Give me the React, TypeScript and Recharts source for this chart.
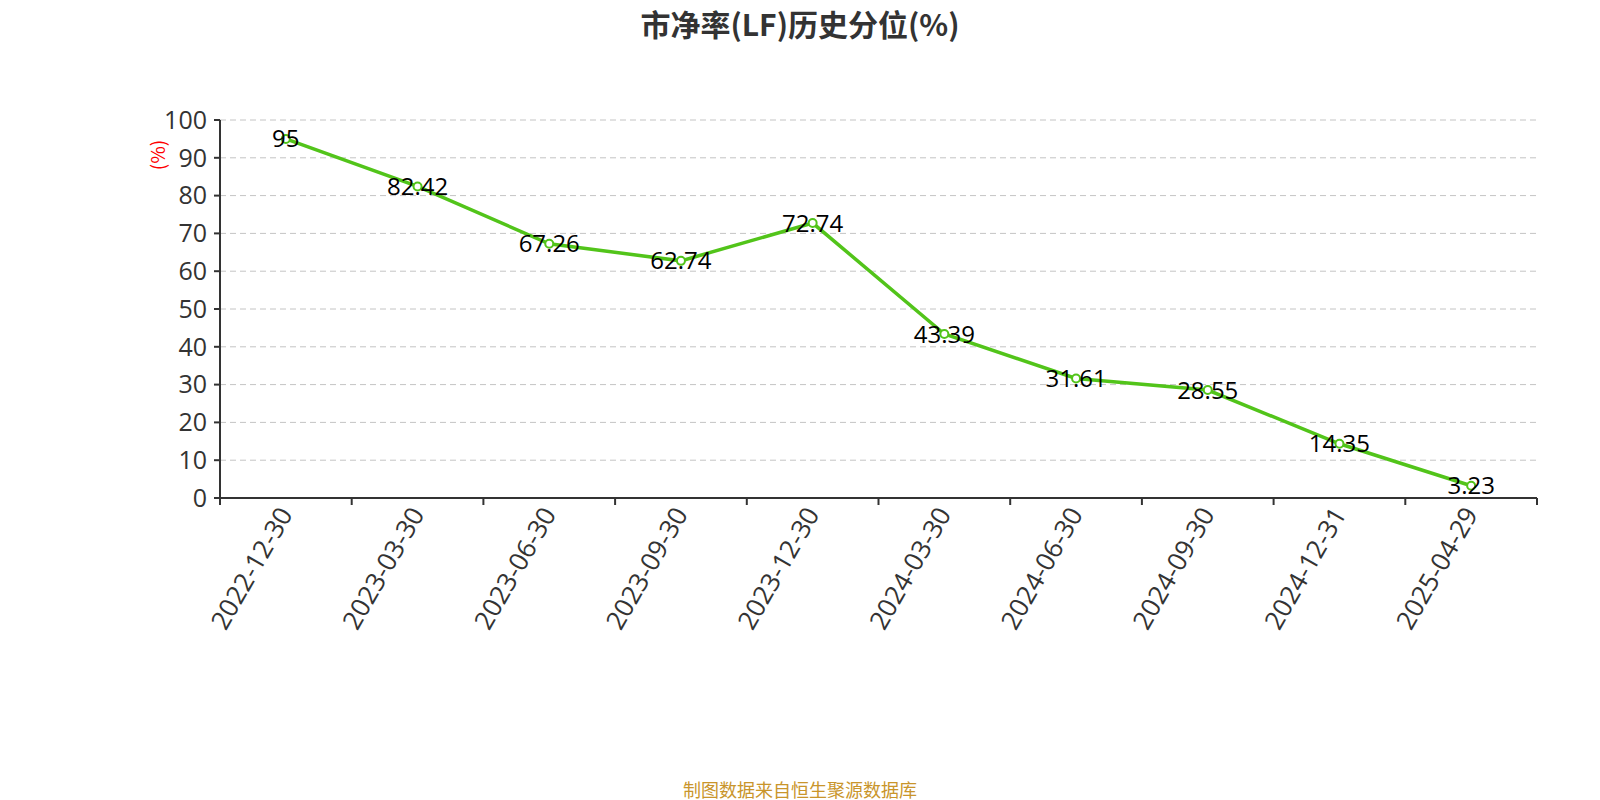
import React from 'react';
import { LineChart, Line, XAxis, YAxis, CartesianGrid, LabelList } from 'recharts';

const dates = [
  '2022-12-30', '2023-03-30', '2023-06-30', '2023-09-30', '2023-12-30',
  '2024-03-30', '2024-06-30', '2024-09-30', '2024-12-31', '2025-04-29',
];
const percentiles = [95, 82.42, 67.26, 62.74, 72.74, 43.39, 31.61, 28.55, 14.35, 3.23];
const yTicks = [0, 10, 20, 30, 40, 50, 60, 70, 80, 90, 100];
// category centers and the boundaries between them
const centerTicks = dates.map((_, i) => i);
const boundaryTicks = [...dates.map((_, i) => i - 0.5), dates.length - 0.5];

const data = dates.map((d, i) => ({ idx: i, date: d, value: percentiles[i] }));

const CJK = '"Noto Sans CJK SC", sans-serif';
const NUM = '"Open Sans", "Noto Sans CJK SC", sans-serif';

const DateTick = (props: any) => {
  const { x, y, payload } = props;
  const tx = x - 1;
  const ty = y + 2;
  return (
    <text
      x={tx}
      y={ty}
      transform={`rotate(-60, ${tx}, ${ty})`}
      textAnchor="end"
      dominantBaseline="central"
      fill="#333"
      fontSize={26}
      fontFamily={NUM}
    >
      {dates[payload.value]}
    </text>
  );
};

const EmptyTick = () => <g />;

const YLabel = (props: any) => {
  const { viewBox } = props;
  const x = viewBox.x - 4;
  const y = viewBox.y + 35;
  return (
    <text
      x={x}
      y={y}
      transform={`rotate(-90, ${x}, ${y})`}
      textAnchor="middle"
      dominantBaseline="central"
      fill="#ff0000"
      fontSize={19}
      fontFamily={CJK}
    >
      (%)
    </text>
  );
};

export default function App() {
  return (
    <div style={{ position: 'absolute', left: 0, top: 0, width: 1600, height: 800, background: '#fff', fontFamily: CJK }}>
      <div style={{ position: 'absolute', left: 0, width: 1600, top: 1, textAlign: 'center', fontSize: 30, fontWeight: 'bold', color: '#333' }}>
        市净率(LF)历史分位(%)
      </div>
      <LineChart
        width={1600}
        height={800}
        data={data}
        margin={{ top: 120, right: 63, left: 160, bottom: 201 }}
      >
        <CartesianGrid vertical={false} xAxisId="labels" stroke="#c4c4c4" strokeDasharray="6 4" />
        <XAxis
          xAxisId="bounds"
          type="number"
          dataKey="idx"
          domain={[-0.5, dates.length - 0.5]}
          ticks={boundaryTicks}
          interval={0}
          height={1}
          tick={<EmptyTick />}
          tickSize={7}
          axisLine={{ stroke: '#333', strokeWidth: 2 }}
          tickLine={{ stroke: '#333', strokeWidth: 2 }}
        />
        <XAxis
          xAxisId="labels"
          type="number"
          dataKey="idx"
          domain={[-0.5, dates.length - 0.5]}
          ticks={centerTicks}
          interval={0}
          height={100}
          axisLine={false}
          tickLine={false}
          tick={<DateTick />}
        />
        <YAxis
          domain={[0, 100]}
          ticks={yTicks}
          interval={0}
          width={60}
          axisLine={{ stroke: '#333', strokeWidth: 2 }}
          tickLine={{ stroke: '#333', strokeWidth: 2 }}
          tickSize={6}
          tickMargin={7}
          tick={{ fill: '#333', fontSize: 25, fontFamily: NUM }}
          label={<YLabel />}
        />
        <Line
          xAxisId="labels"
          type="linear"
          dataKey="value"
          stroke="#52c41a"
          strokeWidth={3.5}
          dot={{ r: 4, fill: '#fff', stroke: '#52c41a', strokeWidth: 2 }}
          activeDot={false}
          isAnimationActive={false}
        >
          <LabelList dataKey="value" position="center" fill="#000" fontSize={24} fontFamily={NUM} />
        </Line>
      </LineChart>
      <div style={{ position: 'absolute', left: 0, width: 1600, top: 776, textAlign: 'center', fontSize: 18, color: '#c9952b' }}>
        制图数据来自恒生聚源数据库
      </div>
    </div>
  );
}
